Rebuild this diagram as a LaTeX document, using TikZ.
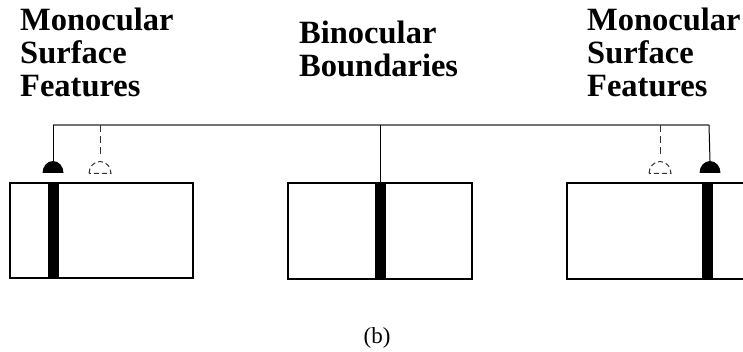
\documentclass[tikz,border=0pt]{standalone}
\usepackage{fontspec}
\setmainfont{Liberation Serif}
\begin{document}
\begin{tikzpicture}[x=1pt,y=-1pt,
  lbl/.style={font=\bfseries\fontsize{32.5}{33}\selectfont, align=left, anchor=north west, inner sep=0pt},
  panel/.style={draw, line width=2pt, inner sep=0pt, outer sep=0pt},
  barfill/.style={fill=black},
  bus/.style={draw=black!55, line width=1.6pt},
  wire/.style={draw=black, line width=1pt},
  dwire/.style={draw=black!80, line width=1pt, dash pattern=on 7pt off 4pt},
  fullcap/.style={fill=black},
  dashcap/.style={draw=black!80, line width=1pt, dash pattern=on 5pt off 3pt}]
\useasboundingbox (0,0) rectangle (743,352);
% labels
\node[lbl] (tl) at (20,7.5) {Monocular\\Surface\\Features};
\node[lbl] (tm) at (299,20.3) {Binocular\\Boundaries};
\node[lbl] (tr) at (587,7.5) {Monocular\\Surface\\Features};
\node[font=\fontsize{23}{26}\selectfont, anchor=base, inner sep=0pt] (captxt) at (377,343) {(b)};
% boxes
\node[panel, minimum width=183pt, minimum height=95pt] (bl) at (101.5,230.5) {};
\node[panel, minimum width=184pt, minimum height=96pt] (bm) at (380,231) {};
\node[panel, minimum width=200pt, minimum height=96pt, anchor=north west] (br) at (567,183) {};
% bars
\fill[barfill] (48,183) rectangle (59,279);
\fill[barfill] (375,183) rectangle (386,279);
\fill[barfill] (702,183) rectangle (713,279);
% coordinates
\coordinate (bL) at (53,125);
\coordinate (bR) at (709,125);
\coordinate (bM) at (380,125);
\coordinate (dL) at (100,125);
\coordinate (dR) at (660,125);
\coordinate (cL) at (53,161);
\coordinate (cR) at (710,161);
\coordinate (eL) at (100,155);
\coordinate (eR) at (660,155);
% bus
\draw[bus] (bL) -- (bR);
\draw[wire] (bL) -- (cL);
\draw[wire] (bR) -- (cR);
\draw[wire] (bM) -- (bm.north);
\draw[dwire] (dL) -- (eL);
\draw[dwire] (dR) -- (eR);
% filled caps
\fill[fullcap] (42.5,173) arc[start angle=180, end angle=0, x radius=10.5pt, y radius=12pt] -- cycle;
\fill[fullcap] (699.5,173) arc[start angle=180, end angle=0, x radius=10.5pt, y radius=12pt] -- cycle;
% dashed caps
\draw[dashcap] (89,173.5) arc[start angle=180, end angle=0, x radius=11pt, y radius=12pt] -- cycle;
\draw[dashcap] (649,173.5) arc[start angle=180, end angle=0, x radius=11pt, y radius=12pt] -- cycle;
\end{tikzpicture}
\end{document}
